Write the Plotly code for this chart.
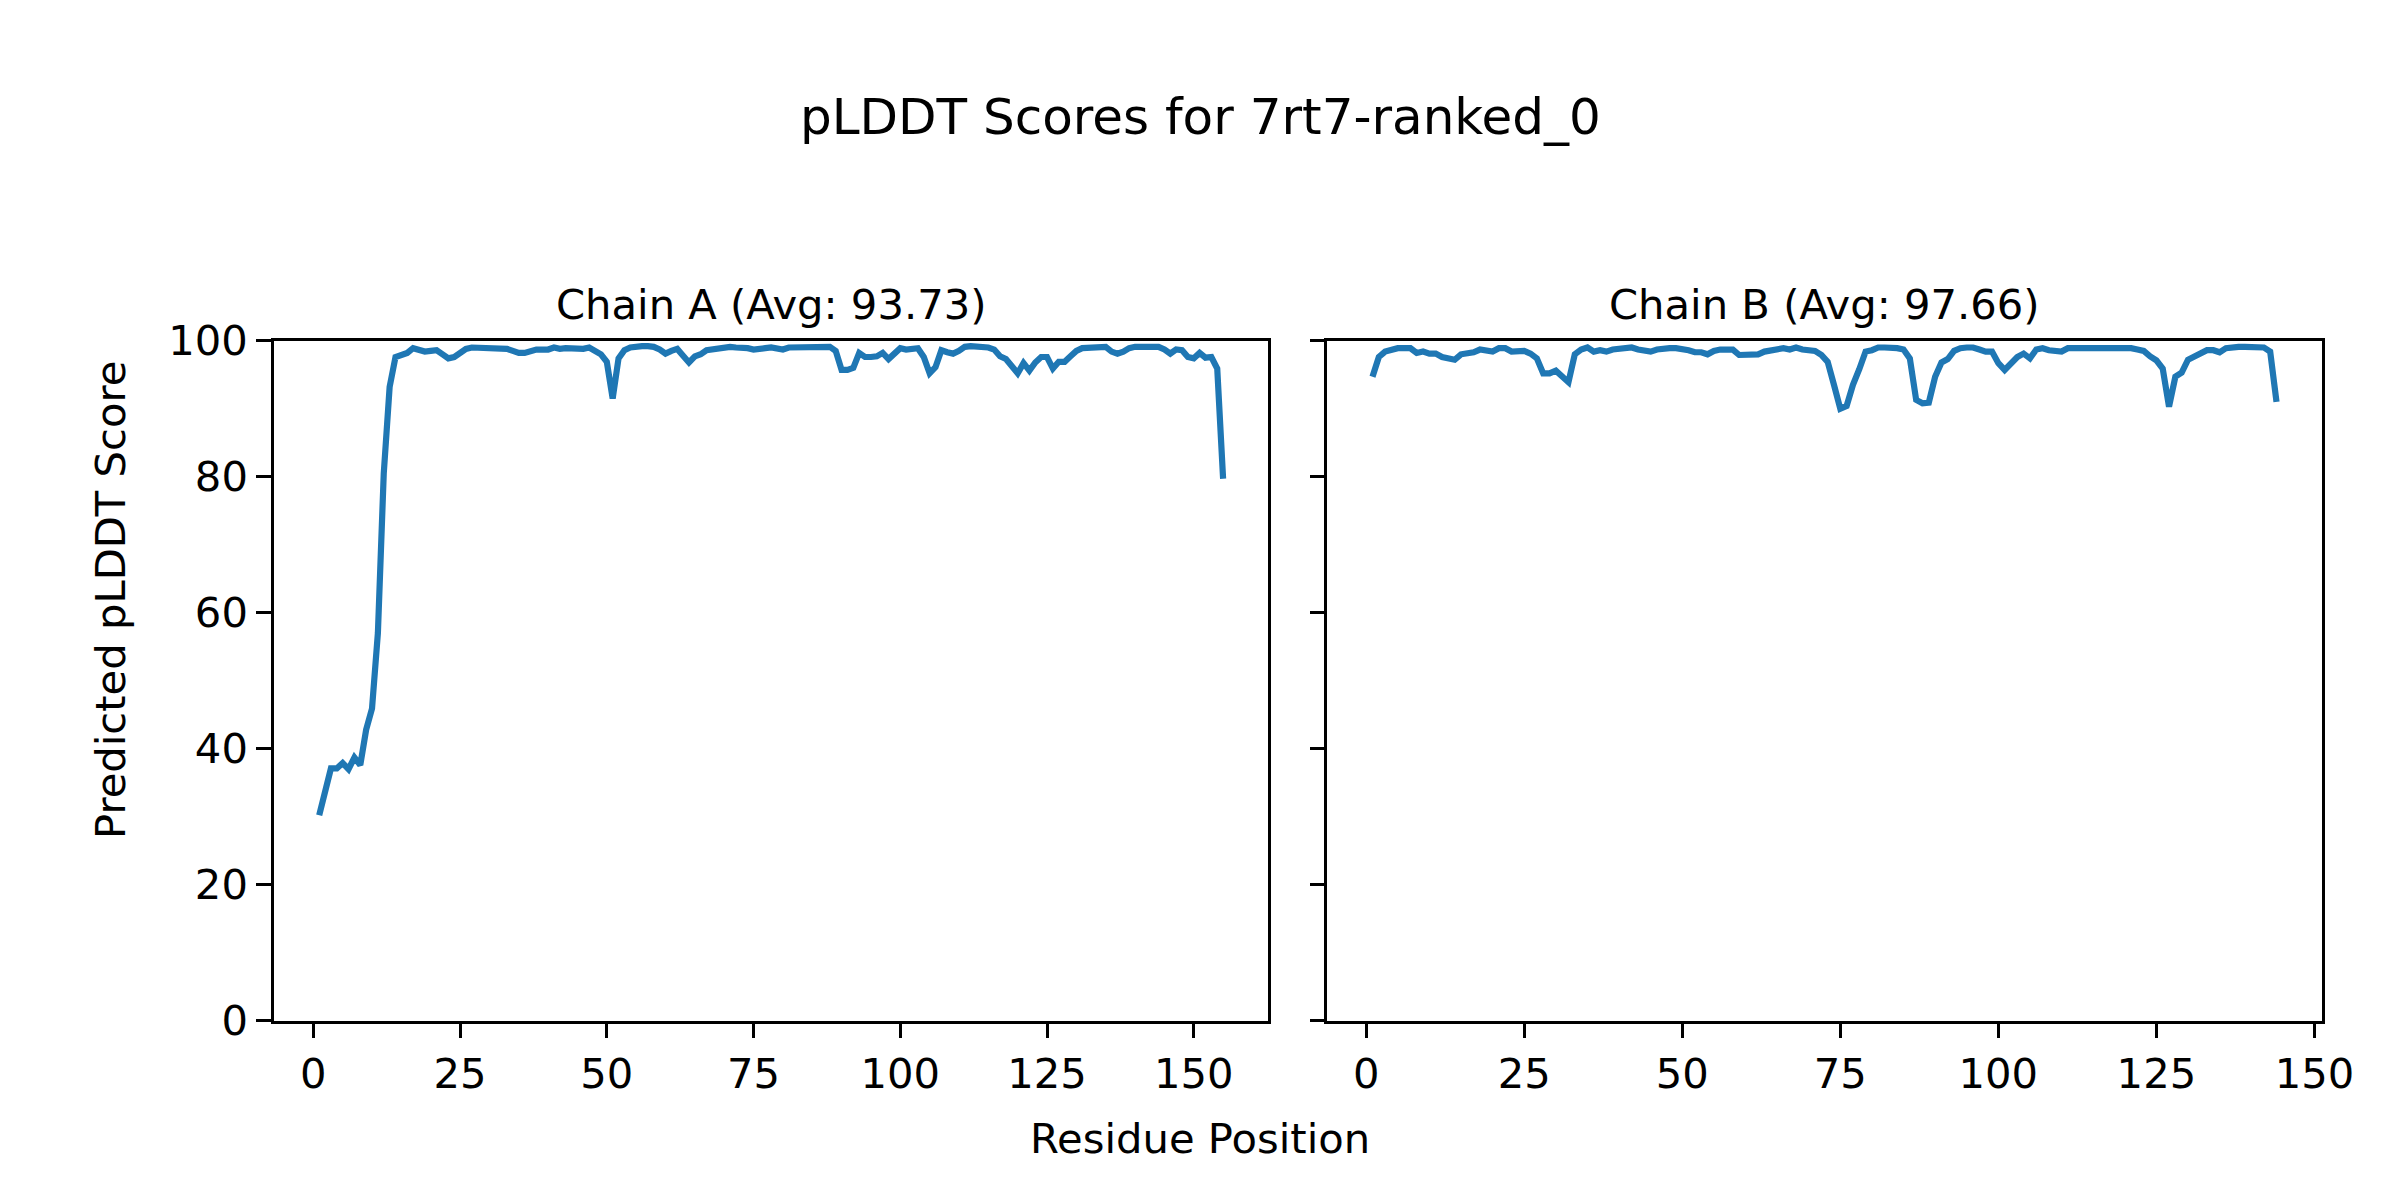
import plotly.graph_objects as go

# ---------------- data ----------------
chain_a_scores = [
    30.2, 33.7, 37.1, 37.1, 37.9, 37.0, 38.7, 37.6, 42.8, 45.9,
    57.0, 80.5, 93.2, 97.6, 97.9, 98.2, 98.9, 98.7, 98.4, 98.5,
    98.6, 98.0, 97.4, 97.6, 98.3, 98.8, 99.0, 99.0, 99.0, 99.0,
    99.0, 98.9, 98.8, 98.5, 98.2, 98.2, 98.5, 98.7, 98.7, 98.7,
    99.0, 98.8, 98.9, 98.8, 98.8, 98.8, 99.0, 98.5, 98.0, 96.9,
    91.5, 97.4, 98.6, 99.0, 99.2, 99.2, 99.2, 99.1, 98.7, 98.1,
    98.5, 98.8, 97.8, 96.8, 97.7, 98.0, 98.6, 98.7, 99.0, 99.0,
    99.1, 99.0, 99.0, 98.9, 98.7, 98.7, 98.9, 99.0, 98.9, 98.7,
    99.0, 99.0, 99.0, 99.0, 99.0, 99.1, 99.1, 99.1, 98.5, 95.7,
    95.7, 96.0, 98.2, 97.6, 97.6, 97.7, 98.2, 97.3, 98.1, 98.9,
    98.7, 98.7, 98.9, 97.6, 95.2, 96.1, 98.6, 98.3, 98.1, 98.5,
    99.1, 99.2, 99.2, 99.2, 99.0, 98.7, 97.7, 97.3, 96.3, 95.2,
    96.7, 95.6, 96.8, 97.6, 97.6, 95.9, 96.9, 96.9, 97.7, 98.5,
    98.9, 99.0, 99.0, 99.1, 99.1, 98.4, 98.1, 98.4, 98.9, 99.1,
    99.1, 99.0, 99.1, 99.1, 98.7, 98.1, 98.7, 98.6, 97.6, 97.4,
    98.2, 97.5, 97.6, 95.9, 79.7,
]
chain_a_residues = list(range(1, len(chain_a_scores) + 1))

chain_b_scores = [
    94.7, 97.6, 98.4, 98.7, 98.9, 98.9, 98.9, 98.2, 98.4, 98.1,
    98.1, 97.6, 97.4, 97.2, 98.0, 98.1, 98.3, 98.7, 98.6, 98.4,
    98.9, 98.9, 98.4, 98.4, 98.5, 98.1, 97.4, 95.2, 95.2, 95.6,
    94.6, 93.9, 98.0, 98.7, 99.0, 98.4, 98.6, 98.4, 98.7, 98.8,
    98.9, 99.0, 98.7, 98.6, 98.4, 98.7, 98.9, 98.9, 98.9, 98.8,
    98.6, 98.3, 98.3, 98.0, 98.5, 98.7, 98.7, 98.7, 97.9, 97.9,
    97.9, 98.0, 98.4, 98.6, 98.9, 98.9, 98.7, 99.0, 98.7, 98.5,
    98.5, 97.9, 96.9, 93.5, 90.0, 90.4, 93.5, 95.8, 98.4, 98.6,
    99.0, 99.0, 99.0, 98.9, 98.7, 97.4, 91.3, 90.8, 90.9, 94.7,
    96.8, 97.3, 98.5, 98.9, 99.0, 99.0, 98.7, 98.4, 98.4, 96.7,
    95.7, 96.7, 97.6, 98.1, 97.4, 98.7, 98.9, 98.6, 98.5, 98.4,
    98.9, 98.9, 98.9, 98.9, 99.0, 99.0, 99.0, 99.0, 99.0, 98.9,
    98.9, 98.7, 98.5, 97.7, 97.1, 95.9, 90.3, 94.7, 95.3, 97.2,
    97.7, 98.0, 98.6, 98.6, 98.3, 98.9, 99.1, 99.1, 99.1, 99.1,
    99.1, 99.0, 98.4, 91.0,
]
chain_b_residues = list(range(1, len(chain_b_scores) + 1))

chain_titles = ["Chain A (Avg: 93.73)", "Chain B (Avg: 97.66)"]
main_title = "pLDDT Scores for 7rt7-ranked_0"
x_label = "Residue Position"
y_label = "Predicted pLDDT Score"
x_ticks = [0, 25, 50, 75, 100, 125, 150]
y_ticks = [0, 20, 40, 60, 80, 100]

# ---------------- layout geometry ----------------
W, H = 2400, 1200
OFF = 8  # default page body margin
FONT = "DejaVu Sans"
TICK_PX = 41.7
TITLE_PX = 50
LINE_COLOR = "#1f77b4"

ax_a = (274.0, 1268.3)
ax_b = (1327.3, 2321.7)
ax_top, ax_bottom = 340.7, 1020.7

def px_x(p):
    return (p - OFF) / W

def px_y(p):
    return 1 - (p - OFF) / H

def span(lst):
    n = len(lst)
    m = 0.05 * (n - 1)
    return [1 - m, n + m]

fig = go.Figure()
fig.add_trace(go.Scatter(x=chain_a_residues, y=chain_a_scores, mode="lines",
                         line=dict(color=LINE_COLOR, width=6.2),
                         xaxis="x", yaxis="y", showlegend=False))
fig.add_trace(go.Scatter(x=chain_b_residues, y=chain_b_scores, mode="lines",
                         line=dict(color=LINE_COLOR, width=6.2),
                         xaxis="x2", yaxis="y2", showlegend=False))

axis_common = dict(
    showline=True, linecolor="black", linewidth=3.3, mirror=True,
    ticks="outside", ticklen=14.6, tickwidth=3.3, tickcolor="black",
    showgrid=False, zeroline=False, automargin=False,
    tickfont=dict(family=FONT, size=TICK_PX, color="black"),
)

fig.update_layout(
    width=W, height=H,
    margin=dict(l=0, r=0, t=0, b=0, pad=0),
    paper_bgcolor="white", plot_bgcolor="white",
    font=dict(family=FONT, color="black"),
    xaxis=dict(domain=[px_x(ax_a[0]), px_x(ax_a[1])], range=span(chain_a_scores),
               tickvals=x_ticks, anchor="y", **axis_common),
    yaxis=dict(domain=[px_y(ax_bottom), px_y(ax_top)], range=[0, 100],
               tickvals=y_ticks, anchor="x", **axis_common),
    xaxis2=dict(domain=[px_x(ax_b[0]), px_x(ax_b[1])], range=span(chain_b_scores),
                tickvals=x_ticks, anchor="y2", **axis_common),
    yaxis2=dict(domain=[px_y(ax_bottom), px_y(ax_top)], range=[0, 100],
                tickvals=y_ticks, anchor="x2", showticklabels=False, **axis_common),
)

annotations = [
    dict(text=main_title, x=px_x(1200), y=px_y(117), xref="paper", yref="paper",
         xanchor="center", yanchor="middle", showarrow=False,
         font=dict(family=FONT, size=TITLE_PX, color="black")),
    dict(text=chain_titles[0], x=px_x((ax_a[0] + ax_a[1]) / 2), y=px_y(304),
         xref="paper", yref="paper", xanchor="center", yanchor="middle",
         showarrow=False, font=dict(family=FONT, size=TICK_PX, color="black")),
    dict(text=chain_titles[1], x=px_x((ax_b[0] + ax_b[1]) / 2), y=px_y(304),
         xref="paper", yref="paper", xanchor="center", yanchor="middle",
         showarrow=False, font=dict(family=FONT, size=TICK_PX, color="black")),
    dict(text=x_label, x=px_x(1200), y=px_y(1138), xref="paper", yref="paper",
         xanchor="center", yanchor="middle", showarrow=False,
         font=dict(family=FONT, size=TICK_PX, color="black")),
    dict(text=y_label, x=px_x(110), y=px_y(600), xref="paper", yref="paper",
         xanchor="center", yanchor="middle", textangle=-90, showarrow=False,
         font=dict(family=FONT, size=TICK_PX, color="black")),
]
fig.update_layout(annotations=annotations)

fig.write_html("out.html")
